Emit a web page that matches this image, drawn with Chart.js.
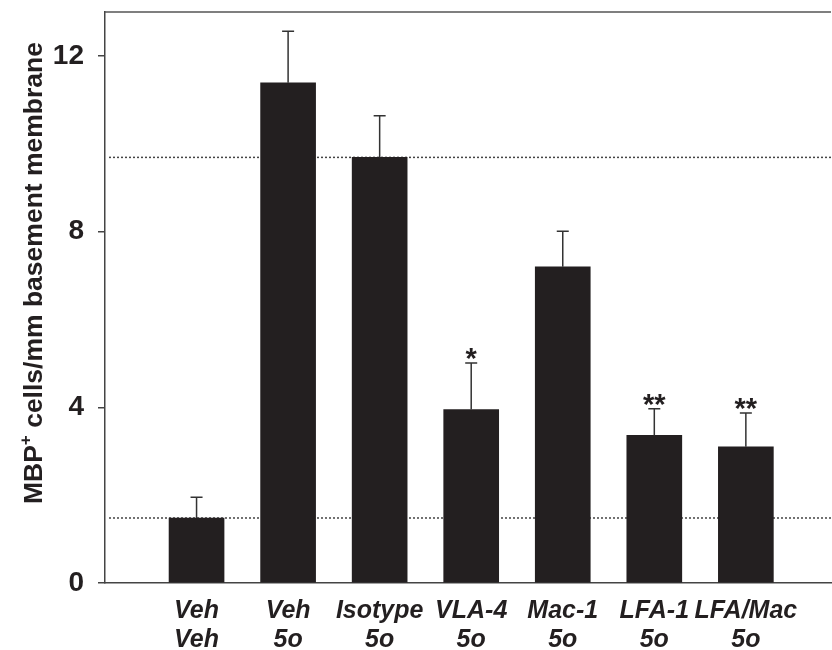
<!DOCTYPE html>
<html>
<head>
<meta charset="utf-8">
<script src="https://cdn.jsdelivr.net/npm/chart.js@4.4.1/dist/chart.umd.min.js"></script>
<style>
  body { margin: 0; background: #fff; }
  #wrap { width: 832px; height: 650px; }
</style>
</head>
<body>
<div id="wrap"><canvas id="chart"></canvas></div>
<script>
// values
const groups = [['Veh', 'Veh'], ['Veh', '5o'], ['Isotype', '5o'], ['VLA-4', '5o'], ['Mac-1', '5o'], ['LFA-1', '5o'], ['LFA/Mac', '5o']];
const means = [1.48, 11.39, 9.69, 3.95, 7.20, 3.36, 3.10];
const sems = [0.47, 1.17, 0.95, 1.06, 0.81, 0.61, 0.77];
const marks = ['', '', '', '*', '', '**', '**'];
const yTicks = [0, 4, 8, 12];
const refLines = [9.69, 1.48];

const ink = '#231f20';
const fontFam = '"Liberation Sans", Arial, sans-serif';

// dotted reference lines, behind the bars
const refLinePlugin = {
    id: 'refLines',
    beforeDatasetsDraw(chart) {
        const { ctx, chartArea, scales } = chart;
        ctx.save();
        ctx.strokeStyle = '#444';
        ctx.lineWidth = 1.5;
        ctx.setLineDash([2, 2]);
        refLines.forEach(v => {
            const y = scales.y.getPixelForValue(v);
            ctx.beginPath();
            ctx.moveTo(chartArea.left + 4, y);
            ctx.lineTo(chartArea.right, y);
            ctx.stroke();
        });
        ctx.restore();
    }
};

// upper error bars + significance stars
const errorPlugin = {
    id: 'errorBars',
    afterDatasetsDraw(chart) {
        const { ctx, scales } = chart;
        ctx.save();
        ctx.strokeStyle = '#333';
        ctx.lineWidth = 1.5;
        means.forEach((m, i) => {
            const x = scales.x.getPixelForValue(i + 1);
            const y0 = scales.y.getPixelForValue(m);
            const y1 = scales.y.getPixelForValue(m + sems[i]);
            ctx.beginPath();
            ctx.moveTo(x, y0);
            ctx.lineTo(x, y1);
            ctx.moveTo(x - 6, y1);
            ctx.lineTo(x + 6, y1);
            ctx.stroke();
            if (marks[i]) {
                ctx.fillStyle = ink;
                ctx.font = 'bold 29px ' + fontFam;
                ctx.textAlign = 'center';
                ctx.textBaseline = 'alphabetic';
                ctx.fillText(marks[i], x, y1 + 5);
            }
        });
        ctx.restore();
    }
};

// frame top line and rotated y title with superscript
const framePlugin = {
    id: 'frame',
    afterDraw(chart) {
        const { ctx, chartArea } = chart;
        ctx.save();
        ctx.strokeStyle = '#555';
        ctx.lineWidth = 1.5;
        ctx.beginPath();
        ctx.moveTo(chartArea.left, chartArea.top);
        ctx.lineTo(chartArea.right, chartArea.top);
        ctx.stroke();

        ctx.translate(42, 273);
        ctx.rotate(-Math.PI / 2);
        ctx.fillStyle = ink;
        ctx.textBaseline = 'alphabetic';
        ctx.textAlign = 'left';
        const big = 'bold 26.5px ' + fontFam;
        const small = 'bold 17px ' + fontFam;
        const a = 'MBP', b = '+', c = ' cells/mm basement membrane';
        ctx.font = big;
        const wa = ctx.measureText(a).width, wc = ctx.measureText(c).width;
        ctx.font = small;
        const wb = ctx.measureText(b).width;
        let x = -(wa + wb + wc) / 2;
        ctx.font = big;
        ctx.fillText(a, x, 0);
        x += wa;
        ctx.font = small;
        ctx.fillText(b, x, -11);
        x += wb;
        ctx.font = big;
        ctx.fillText(c, x, 0);
        ctx.restore();
    }
};

new Chart(document.getElementById('chart'), {
    type: 'bar',
    data: {
        datasets: [{
            data: means.map((v, i) => ({ x: i + 1, y: v })),
            backgroundColor: ink,
            borderWidth: 0,
            barThickness: 55
        }]
    },
    options: {
        responsive: true,
        maintainAspectRatio: false,
        animation: false,
        layout: { padding: { top: 12, right: 1, left: 0, bottom: 0 } },
        plugins: {
            legend: { display: false },
            tooltip: { enabled: false }
        },
        scales: {
            x: {
                type: 'linear',
                offset: false,
                min: 0,
                max: 7.93,
                afterFit: s => {
                    s.height = 67;
                    s.paddingLeft = 0; s.paddingRight = 0; s.paddingTop = 0; s.paddingBottom = 0;
                },
                afterBuildTicks: s => { s.ticks = groups.map((g, i) => ({ value: i + 1 })); },
                grid: { display: false },
                border: { display: true, color: '#444', width: 1.5 },
                ticks: {
                    autoSkip: false,
                    maxRotation: 0,
                    padding: 6,
                    color: ink,
                    font: { family: fontFam, size: 25, weight: 'bold', style: 'italic', lineHeight: 1.16 },
                    callback: v => groups[v - 1] || ''
                }
            },
            y: {
                min: 0,
                max: 13,
                afterFit: s => {
                    s.width = 105;
                    s.paddingLeft = 0; s.paddingRight = 0; s.paddingTop = 0; s.paddingBottom = 0;
                },
                afterBuildTicks: s => { s.ticks = yTicks.map(v => ({ value: v })); },
                grid: { drawOnChartArea: false, drawTicks: true, tickLength: 7, color: '#444', lineWidth: 1.5 },
                border: { display: true, color: '#444', width: 1.5 },
                ticks: {
                    padding: 14,
                    color: ink,
                    font: { family: fontFam, size: 28, weight: 'bold' }
                }
            }
        }
    },
    plugins: [refLinePlugin, errorPlugin, framePlugin]
});
</script>
</body>
</html>
